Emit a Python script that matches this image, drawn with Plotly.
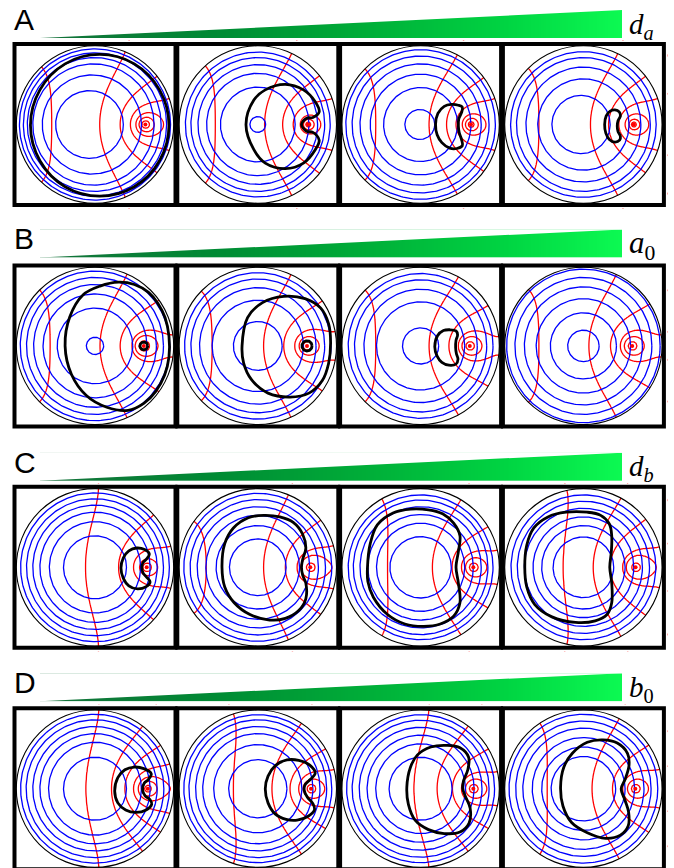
import numpy as np
import plotly.graph_objects as go

# ---------------------------------------------------------------- geometry
FIG_W, FIG_H = 674, 868
R_PX = 78.7                      # disk radius in pixels
HALF_PX = 84.0                   # half-size of each panel's plotting box
BORDER_PX = 80.5                 # frame line position from panel centre
COL_CX = [95.0, 257.8, 420.6, 583.4]
ROW_CY = [124.5, 345.9, 567.3, 788.7]

ROW_NAMES = ["A", "B", "C", "D"]
PARAM_LABELS = ["<i>d</i><sub><i>a</i></sub>", "<i>a</i><sub>0</sub>",
                "<i>d</i><sub><i>b</i></sub>", "<i>b</i><sub>0</sub>"]
PARAM_SIZES = [29, 31, 29, 29]
WEDGE_BOTTOM = [38.3, 257.7, 481.0, 701.5]
WEDGE_LEFT, WEDGE_RIGHT, WEDGE_HEIGHT = 40.0, 622.3, 28.3

# ---------------------------------------------------------------- data
# position of the point source of b (disk radius = 1)
SOURCE_A = [0.64, 0.64, 0.64, 0.64]
SOURCE_B = [0.62, 0.625, 0.625, 0.62]
SOURCE_C = [0.657, 0.667, 0.67, 0.663]
SOURCE_D = [0.67, 0.676, 0.67, 0.66]

# level sets of a: (centre x, radius)
BLUE_A = [[(-0.07, 0.43), (-0.04, 0.63), (-0.02, 0.77), (-0.01, 0.85), (0, 0.91), (0, 0.96)],
          [(0, 0.10), (0, 0.475), (0, 0.65), (0, 0.76), (0, 0.85), (0, 0.92)],
          [(-0.01, 0.19), (0, 0.47), (0, 0.64), (0, 0.77), (0, 0.87), (0, 0.95)],
          [(-0.03, 0.37), (0, 0.58), (0, 0.73), (0, 0.85), (0, 0.925)]]
BLUE_B = [[(0, 0.11), (0, 0.48), (0, 0.66), (0, 0.78), (0, 0.87), (0, 0.95)],
          [(0, 0.31), (0, 0.58), (0, 0.74), (0, 0.85), (0, 0.93)],
          [(0, 0.23), (0, 0.56), (0, 0.72), (0, 0.84), (0, 0.92)],
          [(0, 0.20), (0, 0.42), (0, 0.60), (0, 0.75), (0, 0.87), (0, 0.975)]]
BLUE_C = [[(0, 0.40), (0, 0.58), (0, 0.70), (0, 0.79), (0, 0.87), (0, 0.945)],
          [(0, 0.36), (0, 0.53), (0, 0.66), (0, 0.77), (0, 0.86), (0, 0.94)],
          [(0, 0.39), (0, 0.56), (0, 0.67), (0, 0.77), (0, 0.855), (0, 0.92)],
          [(0, 0.385), (0, 0.53), (0, 0.64), (0, 0.75), (0, 0.84), (0, 0.92)]]
BLUE_D = [[(0, 0.40), (0, 0.59), (0, 0.70), (0, 0.79), (0, 0.875), (0, 0.945)],
          [(0, 0.37), (0, 0.56), (0, 0.70), (0, 0.79), (0, 0.875), (0, 0.94)],
          [(0, 0.40), (0, 0.57), (0, 0.68), (0, 0.78), (0, 0.87), (0, 0.94)],
          [(0, 0.41), (0, 0.53), (0, 0.65), (0, 0.77), (0, 0.86), (0, 0.945)]]

# level sets of b: where each contour crosses the axis left of the source
RED_A = [[-0.55, 0.06, 0.32, 0.45], [-0.54, 0.087, 0.316, 0.45],
         [-0.57, 0.108, 0.33, 0.45], [-0.565, 0.09, 0.32, 0.45]]
RED_B = [[-0.57, 0.064, 0.32, 0.47], [-0.58, 0.074, 0.33, 0.47],
         [-0.57, 0.108, 0.36, 0.48], [-0.565, 0.07, 0.345, 0.47]]
RED_C = [[-0.12, 0.30, 0.49], [-0.655, 0.074, 0.35, 0.50],
         [-0.42, 0.15, 0.40, 0.52], [-0.256, 0.125, 0.34, 0.50]]
RED_D = [[-0.114, 0.21, 0.38, 0.49], [-0.31, 0.18, 0.41, 0.52],
         [-0.083, 0.21, 0.405, 0.52], [-0.46, 0.11, 0.37, 0.50]]
# closed rings of b around the source (radius)
RING_A = [[0.12, 0.08, 0.045], [0.10, 0.06, 0.03], [0.11, 0.07, 0.035], [0.11, 0.06, 0.03]]
RING_B = [[0.11, 0.06], [0.10, 0.05], [0.10, 0.05], [0.10, 0.05]]
RING_C = [[0.09, 0.05], [0.12, 0.05], [0.10, 0.05], [0.12, 0.05]]
RING_D = [[0.12, 0.08, 0.04], [0.10, 0.05], [0.10, 0.05], [0.10, 0.05]]

# outline of the patterned region
BLACK_A = [
    [(0.94, -0.01), (0.82, 0.44), (0.50, 0.77), (0.06, 0.89), (-0.38, 0.77), (-0.70, 0.44),
     (-0.82, -0.01), (-0.70, -0.46), (-0.38, -0.79), (0.06, -0.91), (0.50, -0.79), (0.82, -0.46)],
    [(-0.15, 0.0), (-0.05, 0.31), (0.095, 0.44), (0.35, 0.51), (0.58, 0.44), (0.73, 0.29),
     (0.78, 0.16), (0.70, 0.09), (0.62, 0.08), (0.555, 0.0), (0.62, -0.085), (0.70, -0.10),
     (0.78, -0.20), (0.73, -0.32), (0.58, -0.49), (0.35, -0.56), (0.095, -0.49), (-0.05, -0.32)],
    [(0.19, 0.0), (0.22, 0.14), (0.30, 0.23), (0.39, 0.255), (0.48, 0.245), (0.53, 0.22),
     (0.52, 0.15), (0.485, 0.07), (0.48, -0.02), (0.49, -0.10), (0.52, -0.19), (0.53, -0.27),
     (0.46, -0.305), (0.37, -0.30), (0.27, -0.23), (0.21, -0.13)],
    [(0.27, 0.0), (0.29, 0.11), (0.34, 0.17), (0.40, 0.185), (0.455, 0.16), (0.47, 0.11),
     (0.44, 0.05), (0.43, -0.02), (0.44, -0.09), (0.47, -0.15), (0.46, -0.20), (0.40, -0.225),
     (0.33, -0.19), (0.285, -0.11)],
]
BLACK_B = [
    [(-0.38, 0.0), (-0.32, 0.37), (-0.15, 0.65), (0.064, 0.76), (0.30, 0.81), (0.50, 0.78),
     (0.68, 0.68), (0.80, 0.54), (0.89, 0.36), (0.94, 0.12), (0.94, -0.14), (0.885, -0.37),
     (0.77, -0.58), (0.62, -0.73), (0.42, -0.82), (0.15, -0.78), (-0.11, -0.63), (-0.30, -0.36)],
    [(-0.20, 0.0), (-0.13, 0.36), (0.06, 0.55), (0.33, 0.63), (0.60, 0.60), (0.80, 0.48),
     (0.90, 0.28), (0.925, 0.05), (0.90, -0.22), (0.82, -0.44), (0.65, -0.60), (0.41, -0.65),
     (0.13, -0.60), (-0.08, -0.43), (-0.18, -0.22)],
    [(0.18, -0.01), (0.215, 0.13), (0.29, 0.195), (0.37, 0.205), (0.45, 0.19), (0.47, 0.14),
     (0.45, 0.07), (0.445, -0.02), (0.455, -0.10), (0.475, -0.17), (0.45, -0.23), (0.36, -0.245),
     (0.27, -0.21), (0.21, -0.13)],
    [],
]
BLACK_C = [
    [(0.33, -0.01), (0.36, 0.12), (0.43, 0.21), (0.53, 0.245), (0.63, 0.225), (0.69, 0.17),
     (0.65, 0.10), (0.61, 0.06), (0.595, 0.0), (0.61, -0.07), (0.65, -0.12), (0.70, -0.185),
     (0.65, -0.245), (0.54, -0.275), (0.43, -0.235), (0.36, -0.14)],
    [(-0.455, 0.0), (-0.42, 0.30), (-0.31, 0.50), (-0.12, 0.63), (0.074, 0.66), (0.28, 0.64),
     (0.45, 0.57), (0.57, 0.42), (0.61, 0.24), (0.57, 0.10), (0.555, 0.0), (0.57, -0.10),
     (0.61, -0.20), (0.61, -0.40), (0.52, -0.55), (0.35, -0.65), (0.15, -0.67), (-0.10, -0.60),
     (-0.30, -0.45), (-0.42, -0.25)],
    [(-0.675, 0.0), (-0.64, 0.30), (-0.55, 0.54), (-0.35, 0.69), (-0.125, 0.74), (0.10, 0.73),
     (0.28, 0.68), (0.42, 0.56), (0.50, 0.40), (0.48, 0.20), (0.45, 0.0), (0.48, -0.20),
     (0.50, -0.45), (0.42, -0.62), (0.25, -0.72), (0.04, -0.75), (-0.20, -0.72), (-0.42, -0.60),
     (-0.60, -0.38), (-0.67, -0.18)],
    [(-0.745, 0.0), (-0.72, 0.28), (-0.63, 0.50), (-0.45, 0.64), (-0.22, 0.70), (0.05, 0.70),
     (0.22, 0.66), (0.33, 0.55), (0.36, 0.40), (0.355, 0.20), (0.335, 0.0), (0.36, -0.20),
     (0.36, -0.45), (0.30, -0.60), (0.15, -0.68), (-0.10, -0.70), (-0.40, -0.63), (-0.62, -0.47),
     (-0.72, -0.25)],
]
BLACK_D = [
    [(0.25, -0.03), (0.29, 0.14), (0.38, 0.24), (0.50, 0.275), (0.62, 0.255), (0.715, 0.19),
     (0.68, 0.12), (0.625, 0.07), (0.605, -0.01), (0.635, -0.09), (0.70, -0.14), (0.72, -0.20),
     (0.65, -0.27), (0.52, -0.30), (0.39, -0.27), (0.29, -0.18)],
    [(0.095, 0.0), (0.13, 0.16), (0.22, 0.29), (0.37, 0.365), (0.52, 0.36), (0.66, 0.30),
     (0.73, 0.20), (0.67, 0.12), (0.60, 0.05), (0.59, -0.02), (0.63, -0.11), (0.70, -0.19),
     (0.72, -0.27), (0.64, -0.35), (0.50, -0.40), (0.36, -0.39), (0.22, -0.32), (0.13, -0.18)],
    [(-0.175, 0.02), (-0.13, 0.27), (-0.04, 0.43), (0.13, 0.53), (0.34, 0.55), (0.50, 0.52),
     (0.61, 0.40), (0.60, 0.24), (0.545, 0.10), (0.535, 0.0), (0.57, -0.10), (0.63, -0.25),
     (0.615, -0.44), (0.50, -0.55), (0.30, -0.57), (0.10, -0.52), (-0.07, -0.40), (-0.155, -0.20)],
    [(-0.29, 0.02), (-0.25, 0.27), (-0.14, 0.45), (0.05, 0.59), (0.25, 0.62), (0.43, 0.58),
     (0.56, 0.45), (0.58, 0.30), (0.53, 0.12), (0.48, 0.0), (0.53, -0.15), (0.575, -0.30),
     (0.57, -0.47), (0.47, -0.59), (0.28, -0.63), (0.05, -0.56), (-0.15, -0.43), (-0.26, -0.22)],
]
# black ring hugging the source (radius, 0 = none)
SOURCE_RING_B = [0.05, 0.065, 0.0, 0.0]

SOURCES = [SOURCE_A, SOURCE_B, SOURCE_C, SOURCE_D]
BLUES = [BLUE_A, BLUE_B, BLUE_C, BLUE_D]
REDS = [RED_A, RED_B, RED_C, RED_D]
RINGS = [RING_A, RING_B, RING_C, RING_D]
BLACKS = [BLACK_A, BLACK_B, BLACK_C, BLACK_D]
SOURCE_RINGS = [[0.0] * 4, SOURCE_RING_B, [0.0] * 4, [0.0] * 4]

BLUE = "#0000ff"
RED = "#ff0000"
WEDGE_SCALE = [[0.0, "rgb(20,112,58)"], [0.3, "rgb(0,138,52)"], [0.55, "rgb(0,172,56)"],
               [0.8, "rgb(0,212,66)"], [1.0, "rgb(12,250,82)"]]


def neumann_field(x, y, s):
    """Steady field of a point source at (s, 0) in the unit disk, no-flux wall."""
    z = x + 1j * y
    d1 = np.abs(z - s)
    d2 = np.abs(1 - s * z)
    return -np.log(np.maximum(d1, 0.004)) - np.log(d2) + 0.5 * np.abs(z) ** 2


fig = go.Figure()
layout = dict(width=FIG_W, height=FIG_H, margin=dict(l=0, r=0, t=0, b=0),
              paper_bgcolor="white", plot_bgcolor="rgba(0,0,0,0)", showlegend=False)
masks, frames = [], []

theta = np.linspace(0, 2 * np.pi, 241)
grid = np.linspace(-1.08, 1.08, 217)
GX, GY = np.meshgrid(grid, grid)

for k in range(4):
    for j in range(4):
        n = k * 4 + j + 1
        xa, ya = f"x{n}", f"y{n}"
        cx, cy = COL_CX[j], ROW_CY[k]
        left, right = cx - HALF_PX, cx + HALF_PX
        top, bottom = max(cy - HALF_PX, 0.0), min(cy + HALF_PX, FIG_H)
        layout[f"xaxis{n}"] = dict(domain=[left / FIG_W, right / FIG_W],
                                   range=[(left - cx) / R_PX, (right - cx) / R_PX],
                                   visible=False, anchor=ya, fixedrange=True)
        layout[f"yaxis{n}"] = dict(domain=[1 - bottom / FIG_H, 1 - top / FIG_H],
                                   range=[(cy - bottom) / R_PX, (cy - top) / R_PX],
                                   visible=False, anchor=xa, fixedrange=True)

        s = SOURCES[k][j]
        # b contours: levels taken where each curve meets the symmetry axis
        field = neumann_field(GX, GY, s)
        pts = np.array(REDS[k][j] + [s - r for r in RINGS[k][j]])
        levels = np.sort(neumann_field(pts, 0 * pts, s))
        xp = np.concatenate([[field.min() - 1], levels, [field.max() + 1]])
        fp = np.arange(-1, len(levels) + 1, dtype=float)
        zi = np.interp(field, xp, fp).astype(np.float32)
        fig.add_trace(go.Contour(
            x=grid, y=grid, z=zi, xaxis=xa, yaxis=ya, showscale=False,
            contours=dict(coloring="lines", start=0, end=len(levels) - 1, size=1),
            colorscale=[[0, RED], [1, RED]], line=dict(width=1.3, smoothing=1.0),
            hoverinfo="skip"))

        # a contours
        bx, by = [], []
        for x0, r in BLUES[k][j]:
            bx += list(x0 + r * np.cos(theta)) + [None]
            by += list(r * np.sin(theta)) + [None]
        fig.add_trace(go.Scatter(x=bx, y=by, mode="lines", xaxis=xa, yaxis=ya,
                                 line=dict(color=BLUE, width=1.3), hoverinfo="skip"))

        # region outline
        outline = BLACKS[k][j]
        if outline:
            ox = [p[0] for p in outline] + [outline[0][0]]
            oy = [p[1] for p in outline] + [outline[0][1]]
            fig.add_trace(go.Scatter(x=ox, y=oy, mode="lines", xaxis=xa, yaxis=ya,
                                     line=dict(color="black", width=2.8, shape="spline",
                                               smoothing=1.0), hoverinfo="skip"))
        ring = SOURCE_RINGS[k][j]
        if ring > 0:
            fig.add_trace(go.Scatter(x=s + ring * np.cos(theta), y=ring * np.sin(theta),
                                     mode="lines", xaxis=xa, yaxis=ya,
                                     line=dict(color="black", width=2.8), hoverinfo="skip"))
        # source
        fig.add_trace(go.Scatter(x=[s], y=[0], mode="markers", xaxis=xa, yaxis=ya,
                                 marker=dict(color=RED, size=4, line=dict(width=0)),
                                 hoverinfo="skip"))

        # white mask outside the disk
        B = HALF_PX / R_PX
        path = f"M{-B},{-B} L{B},{-B} L{B},{B} L{-B},{B} Z "
        cpts = [(np.cos(t), -np.sin(t)) for t in np.linspace(0, 2 * np.pi, 181)[:-1]]
        path += "M" + " L".join(f"{px:.4f},{py:.4f}" for px, py in cpts) + " Z"
        masks.append(dict(type="path", path=path, xref=xa, yref=ya, layer="above",
                          fillcolor="white", line=dict(width=0)))
        frames.append(dict(type="circle", xref=xa, yref=ya, x0=-1, x1=1, y0=-1, y1=1,
                           layer="above", line=dict(color="black", width=1.1)))
        fb = BORDER_PX / R_PX
        frames.append(dict(type="rect", xref=xa, yref=ya, x0=-fb, x1=fb, y0=-fb, y1=fb,
                           layer="above", line=dict(color="black", width=4)))

# gradient wedges
NW = 300
wx = (np.arange(NW) + 0.5) / NW
for k in range(4):
    n = 17 + k
    xa, ya = f"x{n}", f"y{n}"
    b = WEDGE_BOTTOM[k]
    layout[f"xaxis{n}"] = dict(domain=[WEDGE_LEFT / FIG_W, WEDGE_RIGHT / FIG_W], range=[0, 1],
                               visible=False, anchor=ya, fixedrange=True)
    layout[f"yaxis{n}"] = dict(domain=[1 - b / FIG_H, 1 - (b - WEDGE_HEIGHT) / FIG_H],
                               range=[0, 1], visible=False, anchor=xa, fixedrange=True)
    fig.add_trace(go.Heatmap(x=wx, y=[0.5], z=[list(wx)], xaxis=xa, yaxis=ya,
                             colorscale=WEDGE_SCALE, showscale=False, zmin=0, zmax=1,
                             hoverinfo="skip"))
    masks.append(dict(type="path", path="M-0.01,-0.001 L-0.01,1.05 L1.01,1.05 L1.0,1.0 Z",
                      xref=xa, yref=ya, layer="above", fillcolor="white", line=dict(width=0)))

# row letters and parameter names, placed on a page-sized overlay axis (pixels)
layout["xaxis21"] = dict(domain=[0, 1], range=[0, FIG_W], visible=False, anchor="y21",
                         fixedrange=True)
layout["yaxis21"] = dict(domain=[0, 1], range=[FIG_H, 0], visible=False, anchor="x21",
                         fixedrange=True)
fig.add_trace(go.Scatter(
    x=[14] * 4, y=[b - 16 for b in WEDGE_BOTTOM], text=ROW_NAMES, mode="text",
    textposition="middle right", xaxis="x21", yaxis="y21", hoverinfo="skip",
    textfont=dict(family="Liberation Sans, Arial", size=30, color="black")))
for k in range(4):
    fig.add_trace(go.Scatter(
        x=[629], y=[WEDGE_BOTTOM[k] - 12], text=[PARAM_LABELS[k]], mode="text",
        textposition="middle right", xaxis="x21", yaxis="y21", hoverinfo="skip",
        textfont=dict(family="Liberation Serif, DejaVu Serif", size=PARAM_SIZES[k],
                      color="black")))

layout["shapes"] = masks + frames
fig.update_layout(**layout)
fig.write_html("out.html")
